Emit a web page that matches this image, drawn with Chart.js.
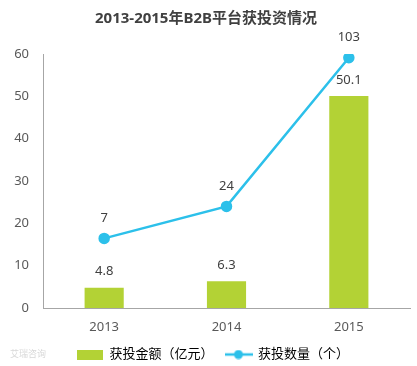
<!DOCTYPE html>
<html>
<head>
<meta charset="utf-8">
<script src="https://cdn.jsdelivr.net/npm/chart.js@4"></script>
<style>
  html, body { margin: 0; padding: 0; background: #fff; }
  #wrap { width: 417px; height: 366px; }
</style>
</head>
<body>
<div id="wrap"><canvas id="b2bChart"></canvas></div>
<script>
const years = ['2013', '2014', '2015'];
const amount = [4.8, 6.3, 50.1];      // 获投金额（亿元）
const deals = [7, 24, 103];           // 获投数量（个）
const yTicks = [0, 10, 20, 30, 40, 50, 60];

const FONT = '"Noto Sans", "Noto Sans CJK SC", sans-serif';
const GREEN = '#b3d235';
const BLUE = '#2cc0ea';

// legend markers
function makeBox() {
    const c = document.createElement('canvas');
    c.width = 26; c.height = 10;
    const g = c.getContext('2d');
    g.fillStyle = GREEN;
    g.fillRect(0, 0, 26, 10);
    return c;
}
function makeLineMark() {
    const c = document.createElement('canvas');
    c.width = 28; c.height = 10;
    const g = c.getContext('2d');
    g.strokeStyle = BLUE;
    g.lineWidth = 2.5;
    g.beginPath(); g.moveTo(0, 5); g.lineTo(28, 5); g.stroke();
    g.fillStyle = BLUE;
    g.beginPath(); g.arc(14, 5, 4.5, 0, Math.PI * 2); g.fill();
    return c;
}
const boxMark = makeBox();
const lineMark = makeLineMark();

// legend takes less height than its padding would ask, drawn a bit higher
const legendFit = {
    id: 'legendFit',
    afterInit(chart) {
        const lg = chart.legend;
        const fit = lg.fit;
        const draw = lg.draw;
        lg.fit = function () {
            fit.call(this);
            this.height = 28;
        };
        lg.draw = function () {
            this.ctx.save();
            this.ctx.translate(7, -2);
            draw.call(this);
            this.ctx.restore();
        };
    }
};

const valueLabels = {
    id: 'valueLabels',
    afterDatasetsDraw(chart) {
        const ctx = chart.ctx;
        ctx.save();
        ctx.font = '13px ' + FONT;
        ctx.fillStyle = '#404040';
        ctx.textAlign = 'center';
        ctx.textBaseline = 'middle';
        chart.getDatasetMeta(0).data.forEach((el, i) => {
            ctx.fillText(String(amount[i]), el.x, el.y - 16);
        });
        chart.getDatasetMeta(1).data.forEach((el, i) => {
            ctx.fillText(String(deals[i]), el.x, el.y - 20);
        });
        // faint watermark
        ctx.font = '9px ' + FONT;
        ctx.fillStyle = '#d8d8d8';
        ctx.textAlign = 'left';
        ctx.fillText('艾瑞咨询', 10, 354);
        ctx.restore();
    }
};

new Chart(document.getElementById('b2bChart'), {
    data: {
        labels: years,
        datasets: [{
            type: 'bar',
            label: '获投金额（亿元）',
            data: amount,
            backgroundColor: GREEN,
            categoryPercentage: 1,
            barPercentage: 0.32,
            yAxisID: 'y',
            order: 2
        }, {
            type: 'line',
            label: '获投数量（个）',
            data: deals,
            borderColor: BLUE,
            backgroundColor: BLUE,
            borderWidth: 2.5,
            pointRadius: 4.5,
            pointHoverRadius: 4.5,
            tension: 0,
            yAxisID: 'y2',
            order: 1
        }]
    },
    options: {
        responsive: true,
        maintainAspectRatio: false,
        animation: false,
        layout: { padding: { left: 0, right: 5, top: 0, bottom: 0 } },
        plugins: {
            title: {
                display: true,
                text: '2013-2015年B2B平台获投资情况',
                color: '#404040',
                font: { family: FONT, size: 15, weight: 'bold' },
                padding: { top: 10, bottom: 26 }
            },
            legend: {
                position: 'bottom',
                labels: {
                    usePointStyle: true,
                    pointStyleWidth: 26,
                    color: '#404040',
                    font: { family: FONT, size: 13 },
                    padding: 12,
                    generateLabels() {
                        return [
                            { text: '获投金额（亿元）', pointStyle: boxMark, fillStyle: GREEN, strokeStyle: GREEN, lineWidth: 0, datasetIndex: 0 },
                            { text: '获投数量（个）', pointStyle: lineMark, fillStyle: BLUE, strokeStyle: BLUE, lineWidth: 0, datasetIndex: 1 }
                        ];
                    }
                }
            },
            tooltip: { enabled: false }
        },
        scales: {
            x: {
                afterFit(scale) { scale.height = 30; },
                grid: { display: false, drawTicks: false },
                border: { color: '#a6a6a6' },
                ticks: { color: '#595959', font: { family: FONT, size: 13 }, padding: 11 }
            },
            y: {
                min: 0,
                max: 60,
                afterBuildTicks(scale) { scale.ticks = yTicks.map(v => ({ value: v })); },
                afterFit(scale) { scale.width = 43; },
                grid: { display: false, drawTicks: false },
                border: { color: '#a6a6a6' },
                ticks: { color: '#595959', font: { family: FONT, size: 13 }, padding: 14 }
            },
            y2: {
                display: false,
                position: 'right',
                min: -30,
                max: 105
            }
        }
    },
    plugins: [legendFit, valueLabels]
});
</script>
</body>
</html>
